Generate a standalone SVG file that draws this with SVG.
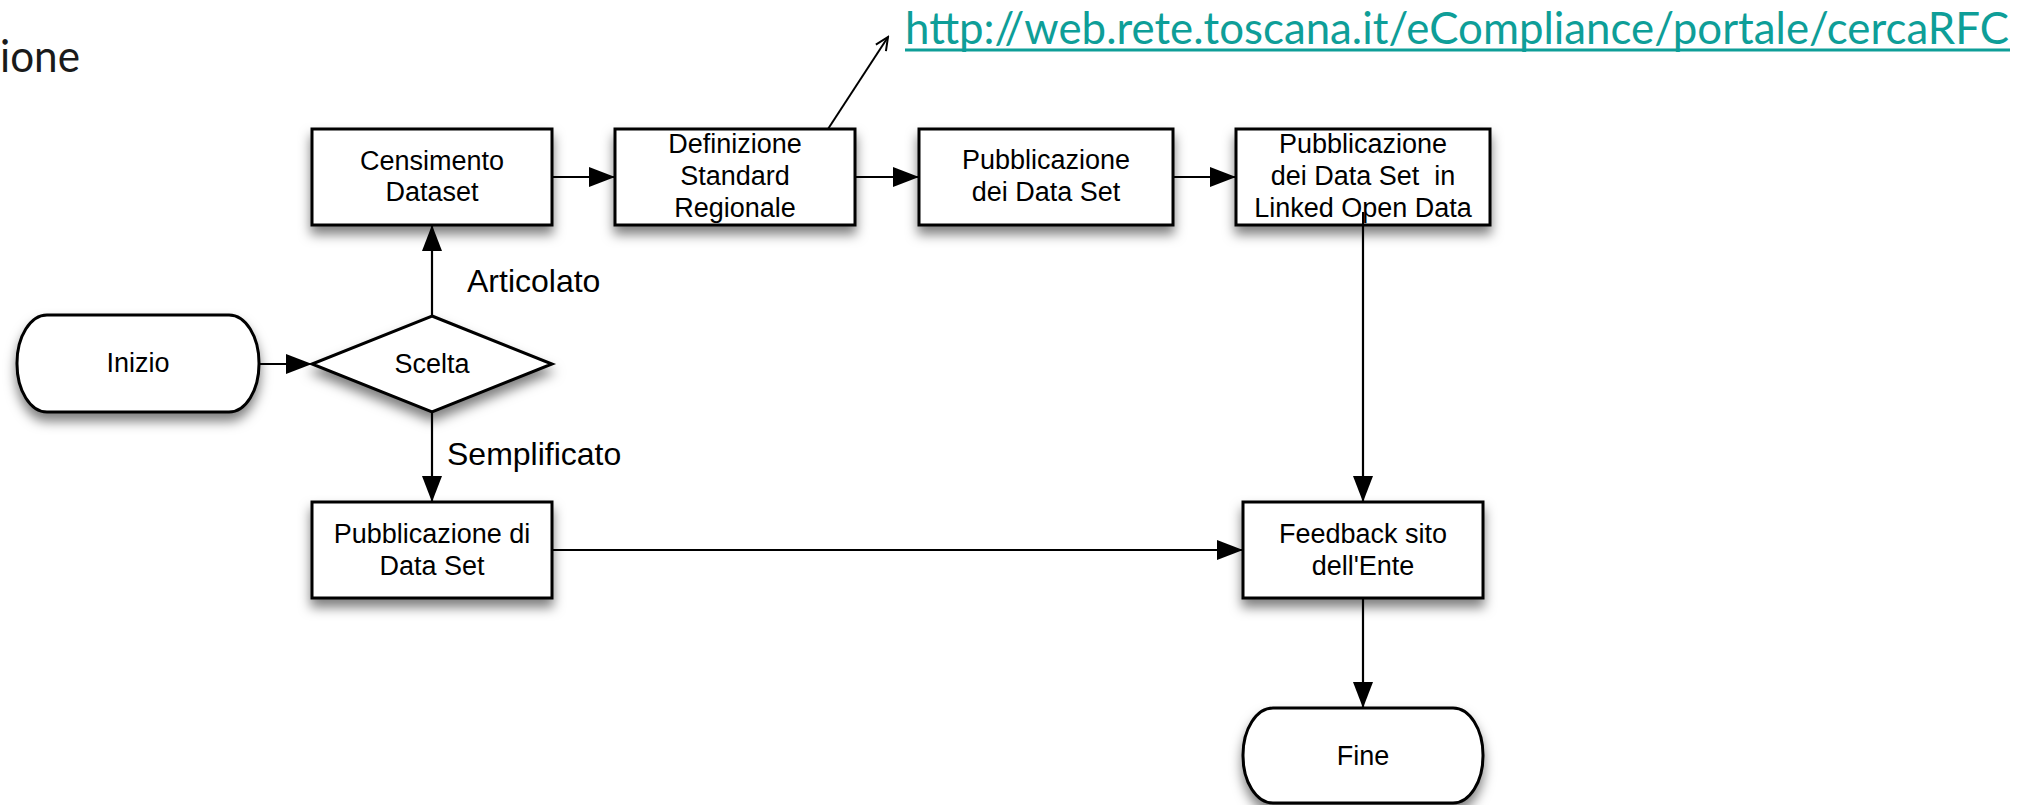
<svg xmlns="http://www.w3.org/2000/svg" width="2041" height="805" viewBox="0 0 2041 805">
  <defs>
    <style>
      .node { fill: #ffffff; stroke: #000000; stroke-width: 3; filter: url(#shadow); }
      .lbl { font-family: "Liberation Sans", Arial, sans-serif; font-size: 27px; fill: #000000; text-anchor: middle; }
      .edge-lbl { font-family: "Liberation Sans", Arial, sans-serif; font-size: 32px; fill: #000000; }
      .conn { fill: none; stroke: #000000; stroke-width: 2.2; marker-end: url(#arrow); }
      .url { font-family: Lato, "Open Sans", sans-serif; font-size: 44px; fill: #0E9E98; }
    </style>
    <filter id="shadow" x="-20%" y="-20%" width="140%" height="160%">
      <feDropShadow dx="0" dy="8" stdDeviation="6" flood-color="#000000" flood-opacity="0.5"/>
    </filter>
    <marker id="arrow" markerUnits="userSpaceOnUse" markerWidth="27" markerHeight="20" refX="26" refY="10" orient="auto">
      <path d="M0,0 L26,10 L0,20 z" fill="#000000"/>
    </marker>
    <marker id="openarrow" markerUnits="userSpaceOnUse" markerWidth="16" markerHeight="14" refX="14" refY="7" orient="auto">
      <path d="M1,1 L14,7 L1,13" fill="none" stroke="#000000" stroke-width="2"/>
    </marker>
  </defs>

  <rect width="2041" height="805" fill="#ffffff"/>

  <text x="0" y="72" font-family="Lato, 'Open Sans', sans-serif" font-size="44" fill="#1a1a1a" textLength="80" lengthAdjust="spacingAndGlyphs">ione</text>

  <g id="url-link">
    <text class="url" x="905" y="44" textLength="1104" lengthAdjust="spacingAndGlyphs">http://web.rete.toscana.it/eCompliance/portale/cercaRFC</text>
    <rect x="905" y="48.5" width="1105" height="3" fill="#0E9E98"/>
  </g>

  <g id="connectors">
    <line class="conn" x1="259" y1="364" x2="312" y2="364"/>
    <line class="conn" x1="432" y1="316" x2="432" y2="225"/>
    <line class="conn" x1="552" y1="177" x2="615" y2="177"/>
    <line class="conn" x1="855" y1="177" x2="919" y2="177"/>
    <line class="conn" x1="1173" y1="177" x2="1236" y2="177"/>
    <line class="conn" x1="1363" y1="225" x2="1363" y2="502"/>
    <line class="conn" x1="432" y1="412" x2="432" y2="502"/>
    <line class="conn" x1="552" y1="550" x2="1243" y2="550"/>
    <line class="conn" x1="1363" y1="598" x2="1363" y2="708"/>
    <line x1="828" y1="129" x2="888" y2="37" stroke="#000000" stroke-width="2" marker-end="url(#openarrow)"/>
    <text class="edge-lbl" x="467" y="292">Articolato</text>
    <text class="edge-lbl" x="447" y="465">Semplificato</text>
  </g>

  <g id="inizio">
    <rect class="node" x="17" y="315" width="242" height="97" rx="30" ry="48"/>
    <text class="lbl" x="138" y="372">Inizio</text>
  </g>

  <g id="scelta">
    <polygon class="node" points="432,316 552,364 432,412 312,364"/>
    <text class="lbl" x="432" y="373">Scelta</text>
  </g>

  <g id="censimento">
    <rect class="node" x="312" y="129" width="240" height="96"/>
    <text class="lbl" x="432" y="169.5">Censimento</text>
    <text class="lbl" x="432" y="201">Dataset</text>
  </g>

  <g id="definizione">
    <rect class="node" x="615" y="129" width="240" height="96"/>
    <text class="lbl" x="735" y="153.3">Definizione</text>
    <text class="lbl" x="735" y="185">Standard</text>
    <text class="lbl" x="735" y="217.3">Regionale</text>
  </g>

  <g id="pubblicazione-dataset">
    <rect class="node" x="919" y="129" width="254" height="96"/>
    <text class="lbl" x="1046" y="169">Pubblicazione</text>
    <text class="lbl" x="1046" y="200.5">dei Data Set</text>
  </g>

  <g id="pubblicazione-lod">
    <rect class="node" x="1236" y="129" width="254" height="96"/>
    <text class="lbl" x="1363" y="153.3">Pubblicazione</text>
    <text class="lbl" x="1363" y="185" xml:space="preserve">dei Data Set  in</text>
    <text class="lbl" x="1363" y="217.3">Linked Open Data</text>
  </g>

  <g id="pubblicazione-di-dataset">
    <rect class="node" x="312" y="502" width="240" height="96"/>
    <text class="lbl" x="432" y="543.3">Pubblicazione di</text>
    <text class="lbl" x="432" y="575">Data Set</text>
  </g>

  <g id="feedback">
    <rect class="node" x="1243" y="502" width="240" height="96"/>
    <text class="lbl" x="1363" y="543.3">Feedback sito</text>
    <text class="lbl" x="1363" y="575">dell'Ente</text>
  </g>

  <g id="fine">
    <rect class="node" x="1243" y="708" width="240" height="95" rx="30" ry="47"/>
    <text class="lbl" x="1363" y="765">Fine</text>
  </g>

  <line x1="1363" y1="212" x2="1363" y2="225" stroke="#000000" stroke-width="2"/>
</svg>
